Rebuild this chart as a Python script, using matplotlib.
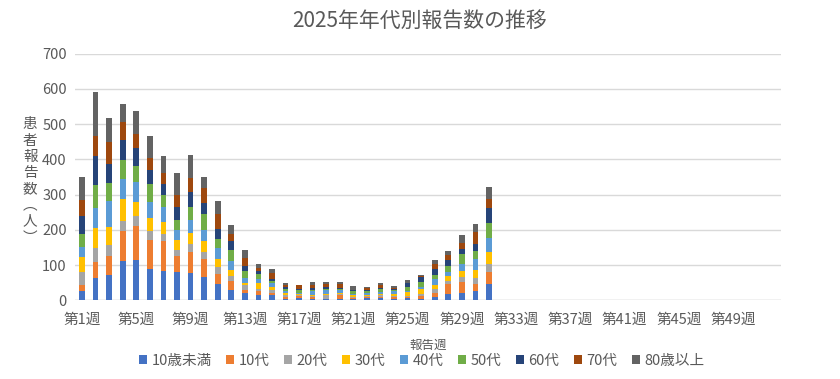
import numpy as np
import matplotlib.pyplot as plt

plt.rcParams['font.family'] = ['Noto Sans CJK JP', 'DejaVu Sans']

# age groups and colours (Excel office palette)
GROUPS = ['10歳未満', '10代', '20代', '30代', '40代', '50代', '60代', '70代', '80歳以上']
COLORS = ['#4472C4', '#ED7D31', '#A5A5A5', '#FFC000', '#5B9BD5',
          '#70AD47', '#264478', '#9E480E', '#636363']

WEEKS = ['第%d週' % w for w in range(1, 53)]

# reported counts per week (weeks 1-31), one list per age group
under10 = [27, 64, 72, 112, 115, 89, 83, 80, 78, 66, 46, 29, 21, 15, 15, 4,
           7, 3, 3, 3, 3, 6, 7, 4, 7, 4, 9, 18, 21, 26, 46]
teens = [17, 45, 54, 85, 96, 81, 85, 46, 59, 51, 29, 26, 8, 11, 6, 6,
         5, 5, 2, 12, 4, 3, 1, 6, 3, 8, 12, 28, 31, 20, 34]
twenties = [36, 40, 31, 29, 29, 27, 20, 17, 23, 20, 20, 14, 14, 6, 8, 6,
            2, 3, 11, 3, 2, 4, 8, 3, 3, 5, 11, 9, 14, 17, 23]
thirties = [43, 57, 52, 62, 40, 37, 34, 28, 31, 31, 22, 17, 6, 17, 9, 6,
            3, 3, 3, 2, 5, 3, 3, 6, 11, 14, 11, 14, 17, 23, 34]
forties = [29, 57, 74, 57, 56, 44, 43, 29, 37, 32, 31, 26, 15, 11, 11, 3,
           3, 11, 9, 10, 5, 4, 5, 6, 3, 8, 18, 11, 20, 31, 40]
fifties = [37, 65, 51, 54, 46, 53, 34, 28, 37, 45, 26, 31, 19, 15, 5, 6,
           8, 3, 5, 2, 8, 7, 7, 3, 11, 14, 11, 17, 28, 23, 42]
sixties = [49, 80, 54, 57, 51, 40, 31, 37, 42, 31, 28, 25, 14, 8, 6, 8,
           3, 8, 5, 3, 2, 2, 3, 3, 11, 14, 17, 17, 15, 20, 43]
seventies = [46, 59, 62, 51, 40, 34, 31, 34, 40, 43, 43, 20, 23, 9, 16, 3,
             11, 6, 8, 12, 1, 6, 8, 5, 1, 3, 14, 15, 17, 34, 25]
over80 = [67, 123, 66, 51, 65, 62, 48, 62, 65, 31, 37, 26, 23, 11, 13, 8,
          1, 11, 5, 5, 11, 3, 6, 5, 8, 2, 11, 11, 22, 23, 35]

SERIES = [under10, teens, twenties, thirties, forties, fifties, sixties,
          seventies, over80]

TEXT = '#595959'

fig = plt.figure(figsize=(8.4, 3.79), dpi=100)
ax = fig.add_axes([0.0895, 0.2077, 0.84, 0.6509])

x = np.arange(len(under10))
bottom = np.zeros(len(under10))
for name, vals, col in zip(GROUPS, SERIES, COLORS):
    ax.bar(x, vals, 0.42, bottom=bottom, color=col, label=name, zorder=3)
    bottom += np.array(vals)

ax.set_xlim(-0.5, len(WEEKS) - 0.5)
ax.set_ylim(0, 700)
ax.set_yticks(range(0, 701, 100))
ax.set_xticks(range(0, len(WEEKS), 4))
ax.set_xticklabels(WEEKS[::4])
ax.tick_params(axis='both', length=0, colors=TEXT, labelsize=10.5)
ax.tick_params(axis='x', pad=9)
ax.tick_params(axis='y', pad=6)
ax.grid(axis='y', color='#D9D9D9', lw=1, zorder=0)
for s in ax.spines.values():
    s.set_visible(False)
ax.axhline(0, color='#D9D9D9', lw=1, zorder=1)

fig.text(0.5, 0.945, '2025年年代別報告数の推移', color=TEXT, fontsize=15,
         ha='center', va='center')
ax.set_xlabel('報告週', color=TEXT, fontsize=9, labelpad=9)

# vertical (stacked) y-axis label
fig.text(0.036, 0.522, '\n'.join('患者報告数︵人︶'), color=TEXT, fontsize=10.5,
         ha='center', va='center', linespacing=1.2)

leg = fig.legend(loc='lower center', bbox_to_anchor=(0.502, -0.005), ncol=9,
                 frameon=False, fontsize=10.5, handlelength=0.55, handleheight=0.55,
                 handletextpad=0.3, columnspacing=1.0)
for t in leg.get_texts():
    t.set_color(TEXT)

fig.savefig('out.png', dpi=100)
